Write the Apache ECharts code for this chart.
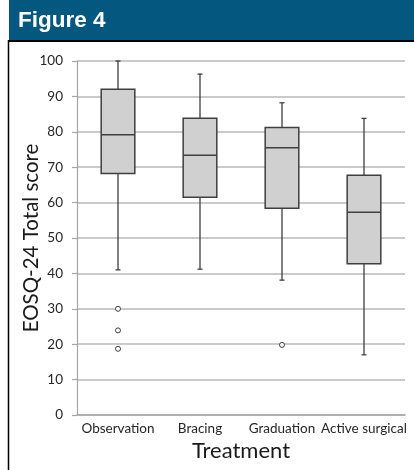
<!DOCTYPE html>
<html>
<head>
<meta charset="utf-8">
<style>
  html, body { margin: 0; padding: 0; background: #fff; }
  #chart { width: 414px; height: 470px; }
</style>
<script src="https://cdn.jsdelivr.net/npm/echarts@6/dist/echarts.min.js"></script>
</head>
<body>
<div id="chart"></div>
<script>
// Treatment groups and their EOSQ-24 total score distributions
const categories = ['Observation', 'Bracing', 'Graduation', 'Active surgical'];
const whiskerLow  = [41.0, 41.2, 38.1, 17.0];
const quartile1   = [68.2, 61.5, 58.4, 42.7];
const medians     = [79.2, 73.4, 75.5, 57.3];
const quartile3   = [92.0, 83.8, 81.2, 67.7];
const whiskerHigh = [100.0, 96.3, 88.2, 83.8];
// Outliers: [group index, score]
const outliers = [[0, 30.0], [0, 23.9], [0, 18.7], [2, 19.8]];
const yTicks = { min: 0, max: 100, interval: 10 };

const boxData = categories.map((c, i) => [i, whiskerLow[i], quartile1[i], medians[i], quartile3[i], whiskerHigh[i]]);

const chart = echarts.init(document.getElementById('chart'), null, { renderer: 'canvas' });
const labelFont = 'Lato, "Open Sans", sans-serif';
const strokeCol = '#3f3f3f';

function renderBox(params, api) {
  const idx = api.value(0);
  const lo = api.coord([idx, api.value(1)]);
  const b1 = api.coord([idx, api.value(2)]);
  const md = api.coord([idx, api.value(3)]);
  const b3 = api.coord([idx, api.value(4)]);
  const hi = api.coord([idx, api.value(5)]);
  const bandW = api.size([1, 0])[0];
  const halfW = bandW * 0.205;
  const cap = 2.5;
  const x = lo[0];
  const line = { stroke: strokeCol, lineWidth: 1.3 };
  return {
    type: 'group',
    children: [
      { type: 'line', shape: { x1: x, y1: hi[1], x2: x, y2: b3[1] }, style: line },
      { type: 'line', shape: { x1: x, y1: b1[1], x2: x, y2: lo[1] }, style: line },
      { type: 'line', shape: { x1: x - cap, y1: hi[1], x2: x + cap, y2: hi[1] }, style: line },
      { type: 'line', shape: { x1: x - cap, y1: lo[1], x2: x + cap, y2: lo[1] }, style: line },
      { type: 'rect', shape: { x: x - halfW, y: b3[1], width: halfW * 2, height: b1[1] - b3[1] },
        style: { fill: '#d0d0d0', stroke: strokeCol, lineWidth: 1.5 } },
      { type: 'line', shape: { x1: x - halfW, y1: md[1], x2: x + halfW, y2: md[1] },
        style: { stroke: strokeCol, lineWidth: 1.5 } }
    ]
  };
}

chart.setOption({
  animation: false,
  backgroundColor: '#ffffff',
  grid: { left: 77, right: 9, top: 61, bottom: 55, containLabel: false, outerBoundsMode: 'none' },
  graphic: [
    { type: 'rect', left: 9, top: 0, shape: { width: 405, height: 40 }, style: { fill: '#04587f' }, z: 10 },
    { type: 'text', left: 18, top: 9, style: { text: 'Figure 4', fill: '#ffffff',
        font: 'bold 22.5px "Liberation Sans", Arial, sans-serif' }, z: 11 },
    { type: 'line', shape: { x1: 9, y1: 41, x2: 414, y2: 41 }, style: { stroke: '#000', lineWidth: 2 }, z: 10 },
    { type: 'line', shape: { x1: 8.5, y1: 40, x2: 8.5, y2: 470 }, style: { stroke: '#000', lineWidth: 1.5 }, z: 10 }
  ],
  xAxis: {
    type: 'category',
    data: categories,
    boundaryGap: true,
    name: 'Treatment',
    nameLocation: 'middle',
    nameGap: 25,
    nameMoveOverlap: false,
    nameTextStyle: { fontFamily: labelFont, fontSize: 22, color: '#1a1a1a' },
    axisLine: { lineStyle: { color: '#a6a6a6', width: 1.5 } },
    axisTick: { show: false },
    axisLabel: { fontFamily: labelFont, fontSize: 13.5, color: '#262626', margin: 7, interval: 0 },
    splitLine: { show: false }
  },
  yAxis: {
    type: 'value',
    min: yTicks.min,
    max: yTicks.max,
    interval: yTicks.interval,
    name: 'EOSQ-24 Total score',
    nameLocation: 'middle',
    nameGap: 35,
    nameRotate: 90,
    nameMoveOverlap: false,
    nameTextStyle: { fontFamily: labelFont, fontSize: 20.5, color: '#1a1a1a' },
    axisLine: { show: true, lineStyle: { color: '#a6a6a6', width: 1.2 } },
    axisTick: { show: true, length: 5, lineStyle: { color: '#a6a6a6', width: 1.2 } },
    axisLabel: { fontFamily: labelFont, fontSize: 13.5, color: '#262626', margin: 14 },
    splitLine: { lineStyle: { color: '#b8b8b8', width: 1.5 } }
  },
  series: [
    {
      type: 'custom',
      renderItem: renderBox,
      data: boxData,
      encode: { x: 0, y: [1, 2, 3, 4, 5] },
      z: 3
    },
    {
      type: 'scatter',
      data: outliers,
      symbol: 'circle',
      symbolSize: 5,
      itemStyle: { color: '#ffffff', borderColor: strokeCol, borderWidth: 1, opacity: 1 },
      z: 4
    }
  ]
});
</script>
</body>
</html>
